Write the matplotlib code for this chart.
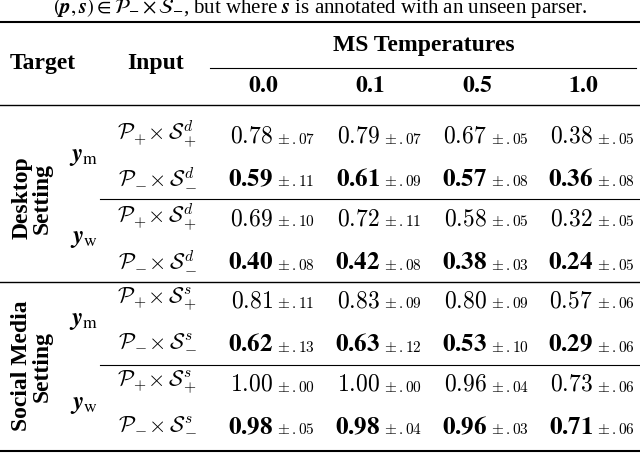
import matplotlib
matplotlib.use("Agg")
import matplotlib.pyplot as plt

plt.rcParams['mathtext.fontset'] = 'cm'
plt.rcParams['font.family'] = ['Liberation Serif', 'DejaVu Serif']

temps = ["0.0", "0.1", "0.5", "1.0"]
inputs = [r"$\mathcal{P}_{+}\!\times\mathcal{S}^{d}_{+}$", r"$\mathcal{P}_{-}\!\times\mathcal{S}^{d}_{-}$"] * 2 + \
         [r"$\mathcal{P}_{+}\!\times\mathcal{S}^{s}_{+}$", r"$\mathcal{P}_{-}\!\times\mathcal{S}^{s}_{-}$"] * 2
vals = [
    ["0.78", "0.79", "0.67", "0.38"],
    ["0.59", "0.61", "0.57", "0.36"],
    ["0.69", "0.72", "0.58", "0.32"],
    ["0.40", "0.42", "0.38", "0.24"],
    ["0.81", "0.83", "0.80", "0.57"],
    ["0.62", "0.63", "0.53", "0.29"],
    ["1.00", "1.00", "0.96", "0.73"],
    ["0.98", "0.98", "0.96", "0.71"],
]
stds = [
    [".07", ".07", ".05", ".05"],
    [".11", ".09", ".08", ".08"],
    [".10", ".11", ".05", ".05"],
    [".08", ".08", ".03", ".05"],
    [".11", ".09", ".09", ".06"],
    [".13", ".12", ".10", ".06"],
    [".00", ".00", ".04", ".06"],
    [".05", ".04", ".03", ".06"],
]
targets = [r"$\boldsymbol{y}_{\mathrm{m}}$", r"$\boldsymbol{y}_{\mathrm{w}}$"] * 2
settings = ["Desktop\nSetting", "Social Media\nSetting"]

W, H = 640, 462
fig = plt.figure(figsize=(W/100, H/100), dpi=100)
ax = fig.add_axes([0, 0, 1, 1])
ax.set_xlim(0, W); ax.set_ylim(H, 0); ax.axis('off')

ax.text(320, 8, r"$(\boldsymbol{p},\boldsymbol{s})\in\mathcal{P}_{-}\times\mathcal{S}_{-}$, but where $\boldsymbol{s}$ is annotated with an unseen parser.",
        ha='center', va='center', fontsize=15, math_fontfamily='stix')

def hline(y, x0=0, x1=W, lw=1.0):
    ax.plot([x0, x1], [y, y], color='black', lw=lw)

hline(22, lw=1.5)
hline(68, 210, 636, lw=0.8)
hline(105, lw=1.0)
hline(199, 100, W, lw=0.8)
hline(282, lw=1.0)
hline(365, 100, W, lw=0.8)
hline(451, lw=1.5)

ax.text(43, 63, "Target", ha='center', va='center', fontsize=17, fontweight='bold')
ax.text(156, 63, "Input", ha='center', va='center', fontsize=17, fontweight='bold')
ax.text(424, 45, "MS Temperatures", ha='center', va='center', fontsize=17, fontweight='bold')
colx = [263, 370, 477, 583]
for x, t in zip(colx, temps):
    ax.text(x, 86, r"$\mathbf{%s}$" % t, ha='center', va='center', fontsize=17, math_fontfamily='stix')

rowy = [137, 180, 220, 263, 302, 345, 385, 428]
for i, y in enumerate(rowy):
    ax.text(157, y - 3, inputs[i], ha='center', va='center', fontsize=16)
    for j, x in enumerate(colx):
        v = vals[i][j]
        if i % 2 == 1:
            ax.text(x + 10, y, r"$\mathbf{%s}$" % v, ha='right', va='center', fontsize=18, math_fontfamily='stix')
        else:
            ax.text(x + 10, y, r"$%s$" % v, ha='right', va='center', fontsize=17)
        ax.text(x + 14, y + 2, r"$\pm\,%s$" % stds[i][j], ha='left', va='center', fontsize=11)

for k in range(4):
    ax.text(84, (rowy[2*k] + rowy[2*k+1]) / 2 - 2, targets[k], ha='center', va='center', fontsize=18, math_fontfamily='stix')
ax.text(32, 198, settings[0], ha='center', va='center', fontsize=17, fontweight='bold', rotation=90, linespacing=0.95)
ax.text(32, 366, settings[1], ha='center', va='center', fontsize=17, fontweight='bold', rotation=90, linespacing=0.95)

fig.savefig("out.png", dpi=100)
